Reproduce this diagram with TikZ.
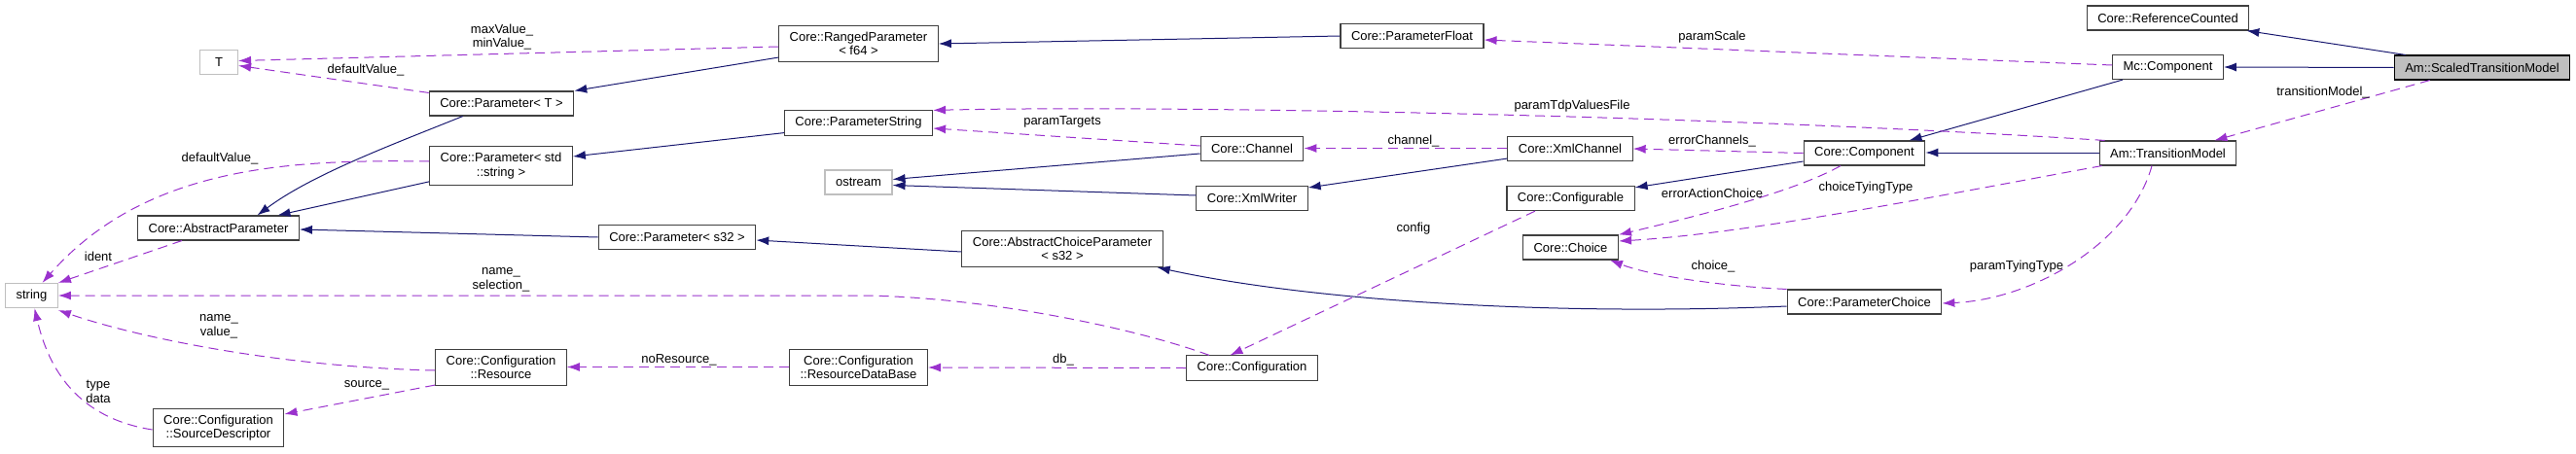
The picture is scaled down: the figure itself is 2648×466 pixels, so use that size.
\documentclass[tikz,border=0pt]{standalone}
\usepackage{fontspec}
\setmainfont{Liberation Sans}
\usetikzlibrary{arrows.meta,calc}
\definecolor{inhblue}{HTML}{191970}
\definecolor{usepurple}{HTML}{9A32CD}
\definecolor{boxgray}{HTML}{404040}
\definecolor{extgray}{HTML}{BFBFBF}

\begin{document}
\begin{tikzpicture}[
  x=1pt,y=-1pt,font=\fontsize{13}{14.5}\selectfont,
  cls/.style={draw=boxgray,fill=white,line width=1.1pt,align=center,
    inner xsep=11pt,inner ysep=6.5pt,minimum height=25pt},
  ext/.style={cls,draw=extgray},
  focus/.style={cls,draw=black,fill=extgray},
  inh/.style={-{Latex[length=13pt,width=9pt]},line width=1pt,draw=inhblue},
  use/.style={-{Latex[length=13pt,width=9pt]},line width=1pt,draw=usepurple,
    dash pattern=on 10pt off 6pt},
  lbl/.style={inner sep=0pt,align=center}
]
\useasboundingbox (0,0) rectangle (2648,466);
% classes
\node[ext,minimum width=39pt] (tT) at (225,64) {T};
\node[ext] (tStr)  at (32.5,304)  {string};
\node[ext] (tOstr) at (882.5,187.5) {ostream};
\node[cls] (absParam)   at (224.5,234.5) {Core::AbstractParameter};
\node[cls] (srcDesc)    at (224.5,440)   {Core::Configuration\\::SourceDescriptor};
\node[cls] (paramT)     at (515.5,106.5) {Core::Parameter< T >};
\node[cls] (paramStd)   at (515,170.5)   {Core::Parameter< std\\::string >};
\node[cls] (paramS32)   at (696,244)     {Core::Parameter< s32 >};
\node[cls] (resource)   at (515,378)     {Core::Configuration\\::Resource};
\node[cls] (rangedF64)  at (882.5,45)    {Core::RangedParameter\\< f64 >};
\node[cls] (paramStr)   at (882.5,126.5) {Core::ParameterString};
\node[cls] (resourceDB) at (882.5,378)   {Core::Configuration\\::ResourceDataBase};
\node[cls] (absChoice)  at (1092,256)    {Core::AbstractChoiceParameter\\< s32 >};
\node[cls] (channel)    at (1287,153)    {Core::Channel};
\node[cls] (xmlWriter)  at (1287,204)    {Core::XmlWriter};
\node[cls] (configuration) at (1287,378.5) {Core::Configuration};
\node[cls] (paramFloat) at (1451.5,37)   {Core::ParameterFloat};
\node[cls] (xmlChannel) at (1614,153)    {Core::XmlChannel};
\node[cls] (configurable) at (1614.5,204) {Core::Configurable};
\node[cls] (choice)     at (1614.5,254.5) {Core::Choice};
\node[cls] (component)  at (1916.5,157.5) {Core::Component};
\node[cls] (paramChoice) at (1916.5,310.5) {Core::ParameterChoice};
\node[cls] (refCounted) at (2228.5,18.5) {Core::ReferenceCounted};
\node[cls] (mcComponent) at (2228.5,69)  {Mc::Component};
\node[cls] (transModel) at (2228.5,157.5) {Am::TransitionModel};
\node[focus] (scaledTM) at (2551.5,69.5) {Am::ScaledTransitionModel};
% inheritance
\draw[inh] ([xshift=35pt]paramT.south west) .. controls (400,150) and (320,180) .. ([xshift=40pt]absParam.north);
\draw[inh] ([yshift=4pt]paramStd.south west) -- ([xshift=61pt]absParam.north);
\draw[inh] (paramS32.west) -- ([yshift=-1.5pt]absParam.east);
\draw[inh] ([yshift=5pt]rangedF64.south west) -- (paramT.north east);
\draw[inh] ([yshift=3pt]paramStr.south west) -- ([yshift=9.5pt]paramStd.east);
\draw[inh] (paramFloat.west) -- (rangedF64.east);
\draw[inh] ([yshift=-5pt]channel.west) -- ([yshift=3pt]tOstr.east);
\draw[inh] ([yshift=3pt]xmlWriter.west) -- ([yshift=-3pt]tOstr.east);
\draw[inh] ([yshift=3pt]xmlChannel.south west) -- ([yshift=11pt]xmlWriter.east);
\draw[inh] ([yshift=-3pt]absChoice.west) -- ([yshift=-3pt]paramS32.east);
\draw[inh] ([yshift=-4.5pt]paramChoice.west) .. controls (1600,325) and (1350,310) .. ([xshift=-6pt]absChoice.south east);
\draw[inh] ([yshift=-8.5pt]component.west) -- ([yshift=-2pt]configurable.north east);
\draw[inh] ([xshift=11pt]mcComponent.south west) -- ([xshift=46pt]component.north);
\draw[inh] ([yshift=0.5pt]transModel.west) -- ([yshift=0.5pt]component.east);
\draw[inh] ([xshift=12pt]scaledTM.north west) -- ([xshift=-3pt]refCounted.south east);
\draw[inh] (scaledTM.west) -- (mcComponent.east);
% usage
\draw[use] ([xshift=37pt]scaledTM.south west) -- ([xshift=-23pt]transModel.north east);
\draw[use] ([yshift=2pt]mcComponent.west) -- ([yshift=-4pt]paramFloat.east);
\draw[use] ([xshift=6pt]transModel.north west) .. controls (1750,118) and (1200,108) .. (paramStr.north east);
\draw[use] ([yshift=3pt]channel.west) -- ([yshift=-5.5pt]paramStr.east);
\draw[use] ([yshift=0.5pt]xmlChannel.west) -- ([yshift=0.5pt]channel.east);
\draw[use] (component.west) -- (xmlChannel.east);
\draw[use] ([xshift=-24.5pt]component.south) .. controls (1840,200) and (1720,228) .. (choice.north east);
\draw[use] ([xshift=3pt]transModel.south west) .. controls (2000,200) and (1800,240) .. ([yshift=6.5pt]choice.east);
\draw[use] (paramChoice.north west) .. controls (1780,295) and (1700,285) .. ([xshift=-9pt]choice.south east);
\draw[use] ([xshift=-16.5pt]transModel.south) .. controls (2190,250) and (2090,308) .. ([yshift=-1.5pt]paramChoice.east);
\draw[use] ([xshift=-36.5pt]configurable.south) -- ([xshift=-22.5pt]configuration.north);
\draw[use] (configuration.west) -- (resourceDB.east);
\draw[use] ([yshift=0.5pt]resourceDB.west) -- ([yshift=0.5pt]resource.east);
\draw[use] ([xshift=-44pt]configuration.north) .. controls (1160,335) and (1000,304) .. (880,304) -- (tStr.east);
\draw[use] ([yshift=-3pt]resource.west) .. controls (300,378) and (150,350) .. ([yshift=-2pt]tStr.south east);
\draw[use] ([yshift=1pt]resource.south west) -- ([yshift=14pt]srcDesc.east);
\draw[use] ([yshift=-2pt]srcDesc.west) .. controls (80,430) and (50,380) .. ([xshift=3pt]tStr.south);
\draw[use] ([xshift=-37.5pt]absParam.south) -- (tStr.north east);
\draw[use] ([yshift=4.5pt]paramStd.west) .. controls (300,164) and (150,170) .. ([xshift=11pt]tStr.north);
\draw[use] ([yshift=-2pt]paramT.north west) -- ([yshift=-3.5pt]tT.east);
\draw[use] ([yshift=-3pt]rangedF64.west) -- ([yshift=1.5pt]tT.east);
% labels
\node[lbl] (lTrans)    at (2388,95)  {transitionModel\_};
\node[lbl] (lScale)    at (1760,38)  {paramScale};
\node[lbl] (lTdp)      at (1616,109) {paramTdpValuesFile};
\node[lbl] (lTargets)  at (1092,125) {paramTargets};
\node[lbl] (lChan)     at (1453,145) {channel\_};
\node[lbl] (lErrChan)  at (1760,145) {errorChannels\_};
\node[lbl] (lErrAct)   at (1760,199) {errorActionChoice};
\node[lbl] (lTying)    at (1918,193) {choiceTyingType};
\node[lbl] (lChoice)   at (1761,274) {choice\_};
\node[lbl] (lPTying)   at (2073,274) {paramTyingType};
\node[lbl] (lConfig)   at (1453,235) {config};
\node[lbl] (lDb)       at (1093,370) {db\_};
\node[lbl] (lNoRes)    at (698,370)  {noResource\_};
\node[lbl] (lNameSel)  at (515,288)  {name\_\\selection\_};
\node[lbl] (lNameVal)  at (225,336)  {name\_\\value\_};
\node[lbl] (lSource)   at (377,396)  {source\_};
\node[lbl] (lType)     at (101,403)  {type\\data};
\node[lbl] (lIdent)    at (101,264)  {ident};
\node[lbl] (lDefStd)   at (226,163)  {defaultValue\_};
\node[lbl] (lDefT)     at (376,72)   {defaultValue\_};
\node[lbl] (lMinMax)   at (516,38)   {maxValue\_\\minValue\_};
\end{tikzpicture}
\end{document}
